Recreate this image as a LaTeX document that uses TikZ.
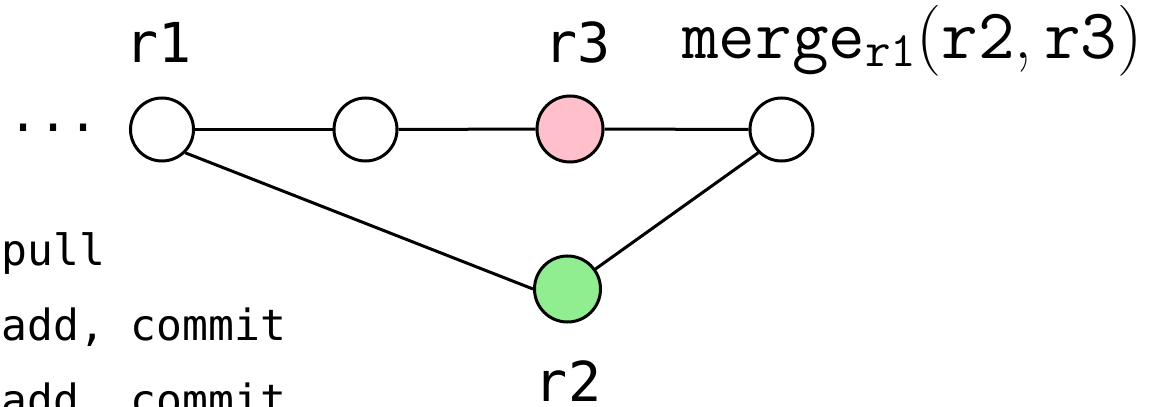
\documentclass[tikz,border=0pt]{standalone}
\usepackage{fontspec}
\newfontfamily\smono{DejaVu Sans Mono}
\definecolor{pinkfill}{RGB}{255,192,203}
\definecolor{greenfill}{RGB}{144,238,144}
\newcommand{\subtt}[1]{\raisebox{-4.5pt}{\fontsize{24.8}{29}\selectfont\ttfamily #1}}
\begin{document}
\begin{tikzpicture}[x=0.5pt,y=-0.5pt,
  commit/.style={circle,draw=black,line width=1.5pt,fill=white,minimum size=31.5pt,inner sep=0pt},
  bigcommit/.style={commit,minimum size=33pt},
  lbl/.style={inner sep=0pt,font=\smono\fontsize{21.5}{26}\selectfont},
  rlbl/.style={inner sep=0pt,anchor=base,font=\smono\fontsize{27.5}{32}\selectfont},
  edge/.style={line width=1.5pt}]
\useasboundingbox (0,0) rectangle (1153,407);
\node[commit] (r1) at (162,129.5) {};
\node[commit] (c2) at (365.5,129.5) {};
\node[bigcommit,fill=pinkfill] (r3) at (570,129) {};
\node[commit] (m) at (781.5,129.5) {};
\node[bigcommit,fill=greenfill] (r2) at (567.5,289) {};
\draw[edge] (r1) -- (c2);
\draw[edge] (c2) -- (r3);
\draw[edge] (r3) -- (m);
\draw[edge] (r1.south east) -- (r2.west);
\draw[edge] (m.south west) -- (r2);
\node[rlbl] (l1) at (159,62) {r1};
\node[rlbl] (l3) at (578,62) {r3};
\node[rlbl] (l2) at (568,401) {r2};
\node[inner sep=0pt,anchor=base west,font=\smono\fontsize{25}{30}\selectfont] (dots) at (8,131) {...};
\node[lbl,anchor=base west] (t1) at (1,265) {pull};
\node[lbl,anchor=base west] (t2) at (1,340) {add, commit};
\node[lbl,anchor=base west] (t3) at (1,415) {add, commit};
\node[inner sep=0pt,anchor=base west,font=\fontsize{35.5}{42}\selectfont] (mg) at (682,58)
  {\texttt{merge}\subtt{r1}(\texttt{r2},\kern6pt\texttt{r3})};
\end{tikzpicture}
\end{document}
